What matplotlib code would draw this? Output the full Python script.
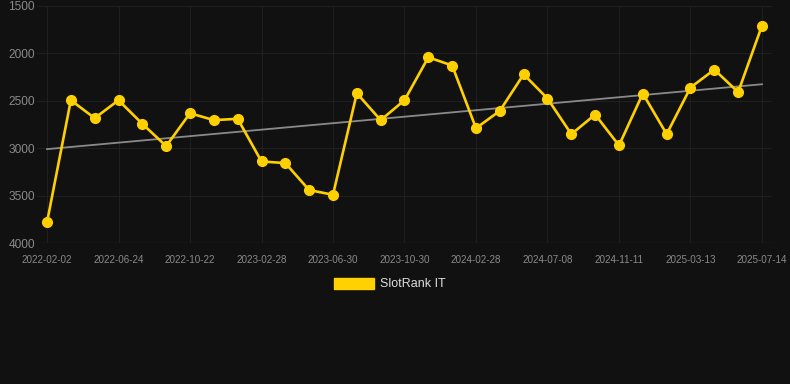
import numpy as np
import matplotlib.pyplot as plt
from matplotlib.patches import Patch

plt.rcParams['font.family'] = ['Liberation Sans', 'DejaVu Sans']

# rank values (lower is better, axis is inverted)
ranks = [3782, 2494, 2683, 2494, 2743, 2978, 2631, 2704, 2690, 3140,
         3157, 3442, 3491, 2420, 2704, 2494, 2041, 2128, 2789, 2606,
         2220, 2476, 2852, 2645, 2971, 2423, 2852, 2360, 2171, 2409, 1707]
tick_labels = ['2022-02-02', '2022-06-24', '2022-10-22', '2023-02-28', '2023-06-30',
               '2023-10-30', '2024-02-28', '2024-07-08', '2024-11-11', '2025-03-13',
               '2025-07-14']
y_ticks = [1500, 2000, 2500, 3000, 3500, 4000]

bg = '#111111'
gold = '#FFD000'

x = np.arange(len(ranks))
a1, a0 = np.polyfit(x, ranks, 1)
trend = a0 + a1 * x

fig = plt.figure(figsize=(7.9, 3.84), dpi=100, facecolor=bg)
ax = fig.add_axes([37/790, 1 - 243/384, 735/790, 237/384])
ax.set_facecolor(bg)

ax.plot(x, trend, color='#8a8a8a', lw=1.3, zorder=2)
ax.plot(x, ranks, color=gold, lw=1.9, marker='o', ms=7, zorder=3)

ax.set_xlim(-0.42, len(ranks) - 1 + 0.42)
ax.set_ylim(4000, 1500)
ax.set_yticks(y_ticks)
ax.set_xticks(x[::3])
ax.set_xticklabels(tick_labels)

ax.grid(True, color='#1f1f1f', lw=0.8)
for s in ax.spines.values():
    s.set_visible(False)
ax.axhline(4000, color='#2a2a2a', lw=0.9, zorder=1)
ax.tick_params(axis='both', length=0, colors='#8a8a8a')
ax.tick_params(axis='x', labelsize=7.1, pad=8.5)
ax.tick_params(axis='y', labelsize=8.6, pad=1.5)

fig.legend(handles=[Patch(facecolor=gold, edgecolor=gold)], labels=['SlotRank IT'],
           loc='center', bbox_to_anchor=(390/790, 1 - 284/384), frameon=False,
           handlelength=3.2, handleheight=1.0, handletextpad=0.5,
           labelcolor='#dddddd', fontsize=9)

fig.savefig('out.png', dpi=100, facecolor=bg)
